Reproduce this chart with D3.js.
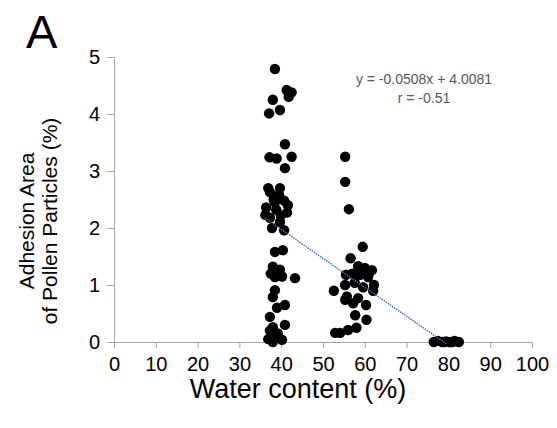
<!DOCTYPE html>
<html>
<head>
<meta charset="utf-8">
<script src="https://cdn.jsdelivr.net/npm/d3@7"></script>
<style>
  body { margin: 0; background: #fff; }
  text { font-family: "Liberation Sans", Arial, sans-serif; }
</style>
</head>
<body>
<div id="chart"></div>
<script>
// values
var waterContent = [
  38.5, 41.3, 42.5, 41.8, 38.0, 39.7, 37.1, 40.9, 37.2, 38.9, 42.5, 40.9, 36.9, 39.7,
  37.3, 39.5, 38.2, 40.7, 36.4, 38.8, 41.4, 37.3, 39.7, 36.2, 40.7, 37.8, 41.6, 38.5, 39.9,
  38.5, 40.4, 38.0, 39.7, 38.5, 43.3, 37.5, 40.2, 38.5, 38.0, 39.0, 40.9, 37.3, 40.9, 38.0,
  37.8, 39.2, 38.0, 40.2, 36.9, 37.3,
  55.3, 55.3, 56.2, 59.5, 56.6, 58.4, 60.0, 61.7, 58.9, 60.8, 57.6, 59.6, 62.2, 55.5, 55.3,
  52.6, 62.0, 55.7, 57.2, 58.4, 55.3, 60.3, 57.7, 60.4, 52.9, 54.1, 56.0, 58.0, 57.0, 61.0,
  76.5, 77.5, 78.5, 79.5, 80.5, 81.5, 82.5, 79.0, 81.0
];
var adhesionArea = [
  4.79, 4.42, 4.38, 4.30, 4.25, 4.07, 4.01, 3.47, 3.24, 3.22, 3.25, 3.05, 2.70, 2.70,
  2.63, 2.58, 2.50, 2.48, 2.36, 2.32, 2.27, 2.18, 2.10, 2.23, 1.96, 2.00, 2.40, 2.45, 2.22,
  1.58, 1.61, 1.32, 1.27, 1.14, 1.12, 1.20, 1.15, 0.91, 0.79, 0.60, 0.65, 0.44, 0.30, 0.26,
  0.12, 0.15, 0.00, 0.04, 0.05, 0.20,
  3.25, 2.81, 2.33, 1.67, 1.47, 1.33, 1.30, 1.26, 1.18, 1.14, 1.04, 0.96, 1.00, 1.18, 1.00,
  0.90, 0.90, 0.80, 0.68, 0.77, 0.74, 0.65, 0.47, 0.39, 0.16, 0.16, 0.21, 0.25, 1.20, 1.20,
  0.00, 0.02, 0.00, 0.01, 0.00, 0.02, 0.00, 0.00, 0.00
];
var xTicks = [0, 10, 20, 30, 40, 50, 60, 70, 80, 90, 100];
var yTicks = [0, 1, 2, 3, 4, 5];
var fitSlope = -0.0508, fitIntercept = 4.0081;
var fitRange = [36, 79.5];
var fitLabels = ["y = -0.0508x + 4.0081", "r = -0.51"];

var margin = {top: 57, right: 25, bottom: 86, left: 114},
    width = 557 - margin.left - margin.right,
    height = 428 - margin.top - margin.bottom;

var svg = d3.select("#chart")
  .append("svg")
    .attr("width", 557)
    .attr("height", 428);

var g = svg.append("g")
    .attr("transform", "translate(" + margin.left + "," + margin.top + ")");

var x = d3.scaleLinear()
  .domain([0, 100])
  .range([0, 418]);

var y = d3.scaleLinear()
  .domain([0, 5])
  .range([height, 0]);

// axes
var xAxis = g.append("g")
  .attr("transform", "translate(0," + height + ")")
  .call(d3.axisBottom(x).tickValues(xTicks).tickSize(6).tickPadding(9));

var yAxis = g.append("g")
  .call(d3.axisLeft(y).tickValues(yTicks).tickFormat(d3.format("d")).tickSize(7).tickPadding(7));

[xAxis, yAxis].forEach(function(a) {
  a.select(".domain").attr("stroke", "#a6a6a6");
  a.selectAll(".tick line").attr("stroke", "#a6a6a6");
  a.selectAll(".tick text")
    .attr("fill", "#000")
    .style("font-family", "'Liberation Sans', Arial, sans-serif")
    .style("font-size", "20px");
});

// points
g.selectAll("circle")
  .data(waterContent)
  .enter()
  .append("circle")
    .attr("cx", function(d) { return x(d); })
    .attr("cy", function(d, i) { return y(adhesionArea[i]); })
    .attr("r", 5.2)
    .attr("fill", "#000");

// trend line
g.append("line")
  .attr("x1", x(fitRange[0]))
  .attr("y1", y(fitSlope * fitRange[0] + fitIntercept))
  .attr("x2", x(fitRange[1]))
  .attr("y2", y(fitSlope * fitRange[1] + fitIntercept))
  .attr("stroke", "#4472c4")
  .attr("stroke-width", 1.5)
  .attr("stroke-dasharray", "1.5,1");

// equation
g.selectAll(".fit")
  .data(fitLabels)
  .enter()
  .append("text")
    .attr("class", "fit")
    .attr("x", 310)
    .attr("y", function(d, i) { return 27 + i * 19; })
    .attr("text-anchor", "middle")
    .attr("fill", "#595959")
    .style("font-size", "14px")
    .text(function(d) { return d; });

// axis titles
svg.append("text")
  .attr("x", margin.left + 184)
  .attr("y", 398)
  .attr("text-anchor", "middle")
  .style("font-size", "27px")
  .text("Water content (%)");

var yTitle = svg.append("text")
  .attr("transform", "translate(0,221) rotate(-90)")
  .attr("text-anchor", "middle")
  .style("font-size", "21px");
yTitle.append("tspan").attr("x", 0).attr("y", 34).text("Adhesion Area");
yTitle.append("tspan").attr("x", 0).attr("y", 57).text("of Pollen Particles (%)");

// panel letter
svg.append("text")
  .attr("x", 26)
  .attr("y", 48)
  .style("font-size", "47px")
  .text("A");
</script>
</body>
</html>
